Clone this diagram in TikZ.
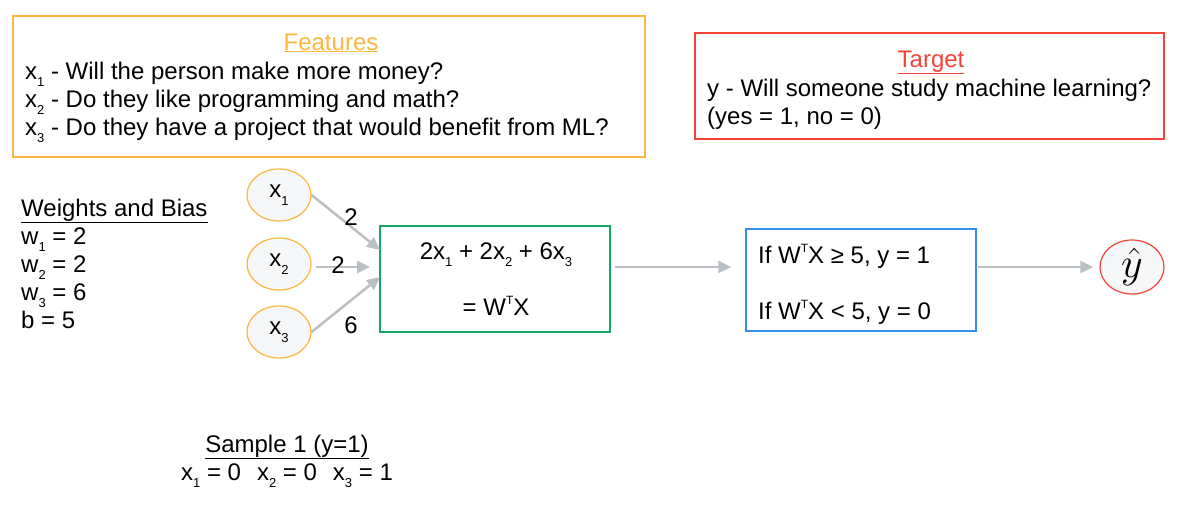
\documentclass[tikz,border=0pt]{standalone}
\usepackage{fontspec}
\setmainfont{Liberation Sans}
\usetikzlibrary{arrows.meta, positioning, shapes.geometric}
\definecolor{featorange}{RGB}{251, 183, 64}
\definecolor{targetred}{RGB}{244, 67, 54}
\definecolor{sumgreen}{RGB}{22, 168, 101}
\definecolor{stepblue}{RGB}{51, 143, 235}
\definecolor{arrowgray}{RGB}{186, 191, 196}
\definecolor{nodefill}{RGB}{246, 247, 249}
\newcommand{\lowsub}[1]{\raisebox{-0.6ex}{\fontsize{13}{13}\selectfont #1}}
\newcommand{\topT}{\raisebox{0.8ex}{\fontsize{12}{12}\selectfont T}}

\begin{document}
\begin{tikzpicture}[x=1pt, y=-1pt,
    every node/.style={font=\fontsize{24}{28}\selectfont, inner sep=0pt},
    box/.style={draw, line width=1.2pt, rectangle},
    invar/.style={ellipse, draw=featorange, fill=nodefill, line width=1.2pt, minimum width=64, minimum height=52},
    flow/.style={draw=arrowgray, line width=2.5pt, -{Triangle[length=13pt, width=12pt]}}]
    \useasboundingbox (0,0) rectangle (1178,506);

    % features
    \node[box, draw=featorange, minimum width=632, minimum height=141] (features) at (329,86.5) {};
    \node[anchor=base, text=featorange] (feattitle) at (331,50) {\underline{Features}};
    \node[anchor=base west] (feat1) at (25,79) {x\lowsub{1} - Will the person make more money?};
    \node[anchor=base west] (feat2) at (25,107) {x\lowsub{2} - Do they like programming and math?};
    \node[anchor=base west] (feat3) at (25,135) {x\lowsub{3} - Do they have a project that would benefit from ML?};

    % target
    \node[box, draw=targetred, minimum width=469, minimum height=106] (target) at (929.5,86) {};
    \node[anchor=base, text=targetred] (targettitle) at (931,67) {\underline{Target}};
    \node[anchor=base west] (target1) at (707,96) {y - Will someone study machine learning?};
    \node[anchor=base west] (target2) at (707,124) {(yes = 1, no = 0)};

    % weights
    \node[anchor=base west] (wtitle) at (21,216) {\underline{Weights and Bias}};
    \node[anchor=base west] (w1) at (21,244) {w\lowsub{1} = 2};
    \node[anchor=base west] (w2) at (21,272) {w\lowsub{2} = 2};
    \node[anchor=base west] (w3) at (21,300) {w\lowsub{3} = 6};
    \node[anchor=base west] (bias) at (21,328) {b = 5};

    % inputs
    \node[invar] (x1) at (279,195) {x\lowsub{1}};
    \node[invar] (x2) at (279,264) {x\lowsub{2}};
    \node[invar] (x3) at (279,332) {x\lowsub{3}};

    % weighted sum
    \node[box, draw=sumgreen, minimum width=230, minimum height=106] (sum) at (495,279) {};
    \node[anchor=base] (sumtop) at (496,259) {2x\lowsub{1} + 2x\lowsub{2} + 6x\lowsub{3}};
    \node[anchor=base] (sumbot) at (496,315) {= W\topT X};

    % step
    \node[box, draw=stepblue, minimum width=230, minimum height=102] (step1) at (861,280) {};
    \node[anchor=base west] (rule1) at (758,263) {If W\topT X ≥ 5, y = 1};
    \node[anchor=base west] (rule2) at (758,319) {If W\topT X < 5, y = 0};

    % output
    \node[ellipse, draw=targetred, fill=nodefill, line width=1.2pt, minimum width=64, minimum height=54] (yhat) at (1132,267) {\scalebox{1.7}{$\hat{y}$}};

    \coordinate (in1) at (380,250);
    \coordinate (in2) at (370,267);
    \coordinate (in3) at (380,277);
    \draw[flow] (x1.east) -- (in1);
    \draw[flow] (x2.east) ++(4,3) -- (in2);
    \draw[flow] (x3.east) -- (in3);
    \node (lab1) at (351,217) {2};
    \node (lab2) at (338,265) {2};
    \node (lab3) at (351,325) {6};

    \draw[flow, shorten >=14pt] (sum.east) ++(4,-12) coordinate (out1) -- (out1 -| step1.west);
    \draw[flow, shorten >=6pt] (step1.east) ++(1,-13) coordinate (out2) -- (out2 -| yhat.west);

    % sample
    \node[anchor=base] (sample) at (287,452) {\underline{Sample 1 (y=1)}};
    \node[anchor=base] (samplex) at (287,480) {x\lowsub{1} = 0\hspace{16pt}x\lowsub{2} = 0\hspace{16pt}x\lowsub{3} = 1};
\end{tikzpicture}
\end{document}
